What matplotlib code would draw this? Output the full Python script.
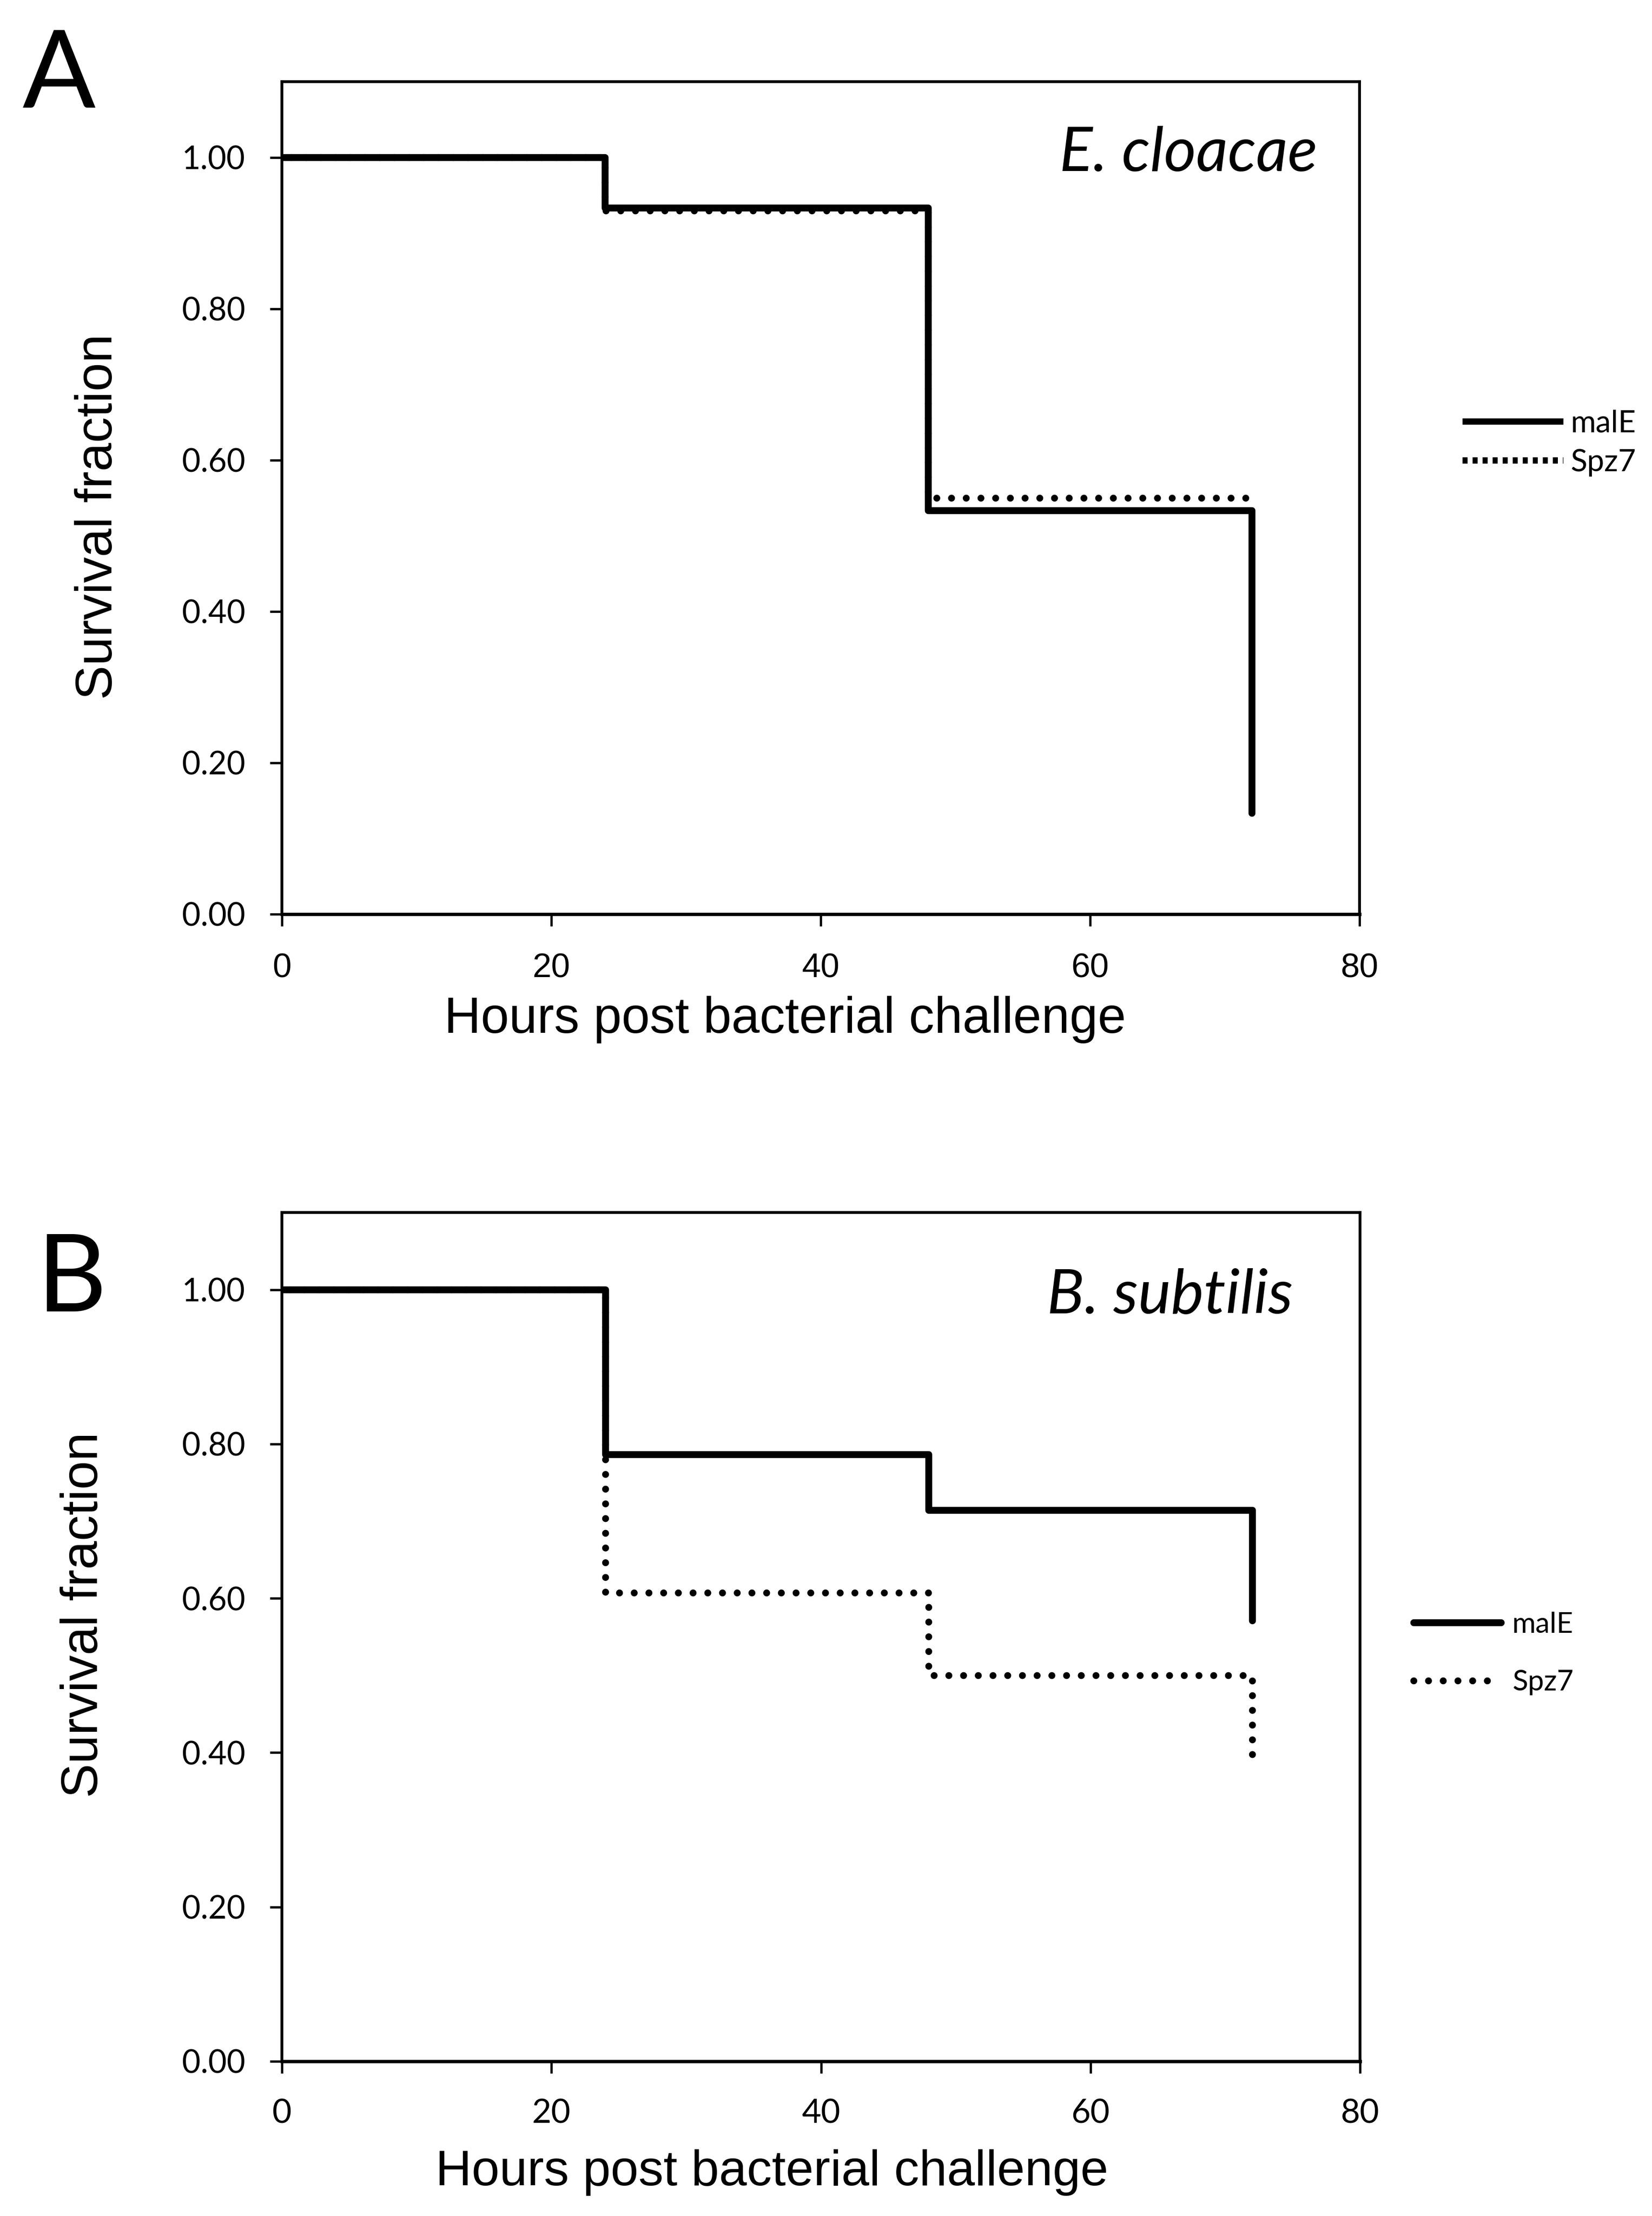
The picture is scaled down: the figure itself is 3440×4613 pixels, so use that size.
import matplotlib
matplotlib.use("Agg")
import numpy as np
import matplotlib.pyplot as plt
from matplotlib.lines import Line2D
from matplotlib import font_manager as fm

# ---------------- data ----------------
time_h = [0, 24, 48, 72]
a_malE = [1.00, 0.933, 0.533, 0.133]
a_spz7 = [1.00, 0.929, 0.55, 0.55]
b_malE = [1.00, 0.786, 0.714, 0.571]
b_spz7 = [1.00, 0.607, 0.50, 0.393]
series_labels = ["malE", "Spz7"]
panel_letters = ["A", "B"]
panel_titles = ["E. cloacae", "B. subtilis"]
xticks = [0, 20, 40, 60, 80]
yticks = [0.0, 0.2, 0.4, 0.6, 0.8, 1.0]
xlabel = "Hours post bacterial challenge"
ylabel = "Survival fraction"

W, H = 3440, 4613
DPI = 100
fig = plt.figure(figsize=(W / DPI, H / DPI), dpi=DPI, facecolor="white")

def fx(px):
    return px / W

def fy(py):
    return 1 - py / H

def has_font(name):
    try:
        fm.findfont(fm.FontProperties(family=name), fallback_to_default=False)
        return True
    except Exception:
        return False

narrow_ok = has_font("Liberation Sans Narrow")

LW = 10.4
GAP = 2.12
DOT = (0, (0.001, GAP))

# axes rectangles in px: left, right, top, bottom
rects = [(587, 2831, 170, 1903), (587, 2832, 2524, 4291)]
data = [(a_malE, a_spz7), (b_malE, b_spz7)]
xtick_fonts = [("Liberation Sans", 51, 40), ("Lato", 50, 38)]

axes = []
for i, (l, r, t, b) in enumerate(rects):
    ax = fig.add_axes([fx(l), fy(b), (r - l) / W, (b - t) / H])
    axes.append(ax)
    malE, spz7 = data[i]
    ax.set_xlim(0, 80)
    ax.set_ylim(0, 1.1)
    sp_line, = ax.step(time_h, spz7, where="post", color="black", lw=LW,
                       linestyle=DOT, dash_capstyle="round", zorder=2)
    # phase the dot pattern so that a dot falls on the end of the curve
    xy = ax.transData.transform(sp_line.get_xydata())
    seg = np.hypot(np.diff(xy[:, 0]), np.diff(xy[:, 1])).sum()
    unit = LW * DPI / 72.0
    period = GAP * unit
    off = (-seg) % period
    sp_line.set_linestyle((off / unit, (0.001, GAP)))
    ax.step(time_h, malE, where="post", color="black", lw=LW,
            solid_capstyle="round", solid_joinstyle="round", zorder=3)
    ax.set_xticks(xticks)
    ax.set_yticks(yticks)
    ax.set_yticklabels([f"{v:.2f}" for v in yticks], fontfamily="Lato", fontsize=48)
    fam, fs, pad = xtick_fonts[i]
    ax.set_xticklabels([str(v) for v in xticks], fontfamily=fam, fontsize=fs)
    ax.tick_params(axis="x", direction="out", length=18, width=3.4, pad=pad,
                   top=False)
    ax.tick_params(axis="y", direction="out", length=18, width=3.4, pad=37,
                   right=False)
    for s in ax.spines.values():
        s.set_linewidth(4.2)
        s.set_color("black")
    ax.spines["bottom"].set_linewidth(5.0)

# panel letters
fig.text(fx(46), fy(224), panel_letters[0], fontfamily="Lato", fontsize=162,
         ha="left", va="baseline")
fig.text(fx(76), fy(2730), panel_letters[1], fontfamily="Lato", fontsize=162,
         ha="left", va="baseline")

# titles (italic)
fig.text(fx(2743), fy(356), panel_titles[0], fontfamily="Lato", style="italic",
         fontsize=93, ha="right", va="baseline")
fig.text(fx(2692), fy(2733), panel_titles[1], fontfamily="Lato", style="italic",
         fontsize=93, ha="right", va="baseline")

# axis labels
if narrow_ok:
    fig.text(fx(1635), fy(2150), xlabel, fontfamily=["Liberation Sans Narrow", "Liberation Sans"],
             fontsize=92, ha="center", va="baseline")
else:
    fig.text(fx(1635), fy(2150), xlabel, fontfamily="Liberation Sans",
             fontsize=76, ha="center", va="baseline")
fig.text(fx(1607), fy(4549), xlabel, fontfamily="Liberation Sans", fontsize=75,
         ha="center", va="baseline")
fig.text(fx(233), fy(1075), ylabel, fontfamily="Liberation Sans", fontsize=77,
         rotation=90, rotation_mode="anchor", ha="center", va="baseline")
fig.text(fx(203), fy(3361), ylabel, fontfamily="Liberation Sans", fontsize=77,
         rotation=90, rotation_mode="anchor", ha="center", va="baseline")

# legends
hA = [Line2D([], [], color="black", lw=9.4, solid_capstyle="butt"),
      Line2D([], [], color="black", lw=9.4, linestyle=(0, (0.8, 0.8)), dash_capstyle="butt")]
axes[0].legend(hA, series_labels, loc="center left",
               bbox_to_anchor=(fx(3045), fy(922)), bbox_transform=fig.transFigure,
               frameon=False, borderpad=0, borderaxespad=0,
               handlelength=3.28, handletextpad=0.25, labelspacing=0.36,
               prop=fm.FontProperties(family="Lato", size=46))

hB = [Line2D([], [], color="black", lw=LW, solid_capstyle="round"),
      Line2D([], [], color="black", lw=LW, linestyle=DOT, dash_capstyle="round")]
axes[1].legend(hB, series_labels, loc="center left",
               bbox_to_anchor=(fx(2944), fy(3442)), bbox_transform=fig.transFigure,
               frameon=False, borderpad=0, borderaxespad=0,
               handlelength=3.05, handletextpad=0.38, labelspacing=1.12,
               prop=fm.FontProperties(family="Lato", size=43))

fig.savefig("out.png", dpi=DPI, facecolor="white")
